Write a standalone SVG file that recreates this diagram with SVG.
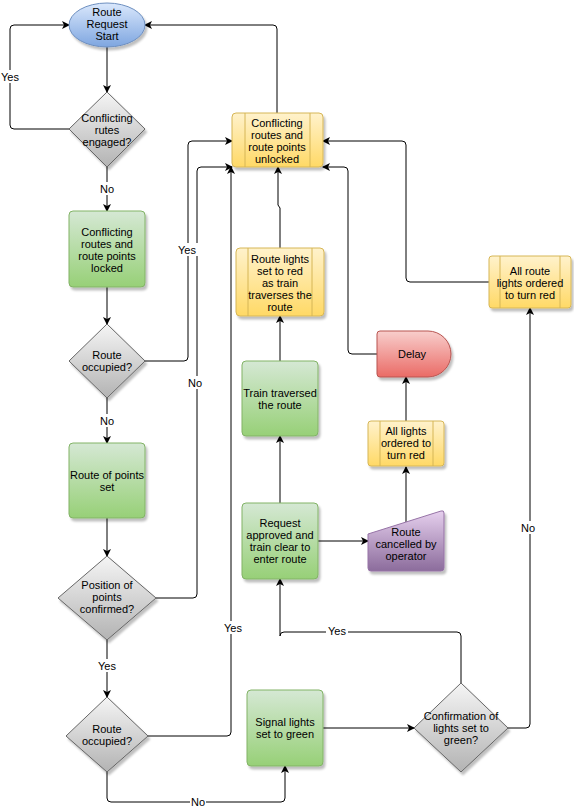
<svg xmlns="http://www.w3.org/2000/svg" width="574" height="810" viewBox="0 0 574 810">
<defs>
<linearGradient id="gGreen" x1="0" y1="0" x2="0" y2="1"><stop offset="0" stop-color="#d5e8d4"/><stop offset="1" stop-color="#97d077"/></linearGradient>
<linearGradient id="gYellow" x1="0" y1="0" x2="0" y2="1"><stop offset="0" stop-color="#fff2cc"/><stop offset="1" stop-color="#ffd966"/></linearGradient>
<linearGradient id="gRed" x1="0" y1="0" x2="0" y2="1"><stop offset="0" stop-color="#f8cecc"/><stop offset="1" stop-color="#ea6b66"/></linearGradient>
<linearGradient id="gPurple" x1="0" y1="0" x2="0" y2="1"><stop offset="0" stop-color="#e6d0ee"/><stop offset="1" stop-color="#8c6c9c"/></linearGradient>
<linearGradient id="gBlue" x1="0" y1="0" x2="0" y2="1"><stop offset="0" stop-color="#dae8fc"/><stop offset="1" stop-color="#7ea6e0"/></linearGradient>
<linearGradient id="gGrey" x1="0" y1="0" x2="0" y2="1"><stop offset="0" stop-color="#f5f5f5"/><stop offset="1" stop-color="#b3b3b3"/></linearGradient>
<filter id="sh" x="-20%" y="-20%" width="150%" height="150%"><feDropShadow dx="2" dy="3" stdDeviation="1.2" flood-color="#000" flood-opacity="0.25"/></filter>
<marker id="arr" markerWidth="10" markerHeight="10" refX="7" refY="4" orient="auto" markerUnits="userSpaceOnUse"><path d="M0,0 L8,4 L0,8 L2,4 z" fill="#000"/></marker>
</defs>
<style>
text{font-family:"Liberation Sans",Arial,sans-serif;font-size:11px;fill:#000;text-anchor:middle}
.green{fill:url(#gGreen);stroke:#82b366;stroke-width:1;filter:url(#sh)}
.yellow{fill:url(#gYellow);stroke:#d6b656;stroke-width:1;filter:url(#sh)}
.red{fill:url(#gRed);stroke:#b85450;stroke-width:1;filter:url(#sh)}
.purple{fill:url(#gPurple);stroke:#9673a6;stroke-width:1;filter:url(#sh)}
.blue{fill:url(#gBlue);stroke:#6c8ebf;stroke-width:1;filter:url(#sh)}
.grey{fill:url(#gGrey);stroke:#666666;stroke-width:1;filter:url(#sh)}
.inner{stroke:#d6b656;stroke-width:1}
.edge{fill:none;stroke:#000;stroke-width:1;marker-end:url(#arr)}
.lbl{fill:#fff}
</style>
<g id="connectors">
<path class="edge" d="M107 47 V92"/>
<path class="edge" d="M69 129 H14 Q10 129 10 125 V29 Q10 25 14 25 H69"/>
<path class="edge" d="M107 167 V211"/>
<path class="edge" d="M107 287 V324"/>
<path class="edge" d="M145 361 H184 Q188 361 188 357 V145 Q188 141 192 141 H232"/>
<path class="edge" d="M107 398 V443"/>
<path class="edge" d="M107 518 V556"/>
<path class="edge" d="M156 598 H193 Q197 598 197 594 V171 Q197 167 201 167 H232"/>
<path class="edge" d="M107 640 V697"/>
<path class="edge" d="M148 736 H227 Q231 736 231 732 V167"/>
<path class="edge" d="M107 772 V798 Q107 802 111 802 H281 Q285 802 285 798 V766"/>
<path class="edge" d="M323 728 H414"/>
<path class="edge" d="M461 683 V636 Q461 632 457 632 H284 Q280 632 280 636 V579"/>
<path class="edge" d="M508 728 H526 Q530 728 530 724 V308"/>
<path class="edge" d="M280 503 V436"/>
<path class="edge" d="M318 541 H368"/>
<path class="edge" d="M406 522 V467"/>
<path class="edge" d="M406 421 V377"/>
<path class="edge" d="M377 354 H352 Q348 354 348 350 V171 Q348 167 344 167 H323"/>
<path class="edge" d="M280 361 V316"/>
<path class="edge" d="M280 248 V208 L278 205 V167"/>
<path class="edge" d="M489 282 H410 Q406 282 406 278 V145 Q406 141 402 141 H323"/>
<path class="edge" d="M277 113 V29 Q277 25 273 25 H145"/>
<rect class="lbl" x="0" y="70" width="20" height="13"/><text x="10" y="81">Yes</text>
<rect class="lbl" x="99" y="182" width="16" height="13"/><text x="107" y="193">No</text>
<rect class="lbl" x="177" y="243" width="21" height="13"/><text x="187" y="254">Yes</text>
<rect class="lbl" x="99" y="414" width="16" height="13"/><text x="107" y="425">No</text>
<rect class="lbl" x="188" y="376" width="16" height="13"/><text x="195" y="387">No</text>
<rect class="lbl" x="97" y="659" width="21" height="13"/><text x="107" y="670">Yes</text>
<rect class="lbl" x="223" y="621" width="21" height="13"/><text x="233" y="632">Yes</text>
<rect class="lbl" x="190" y="795" width="16" height="13"/><text x="198" y="806">No</text>
<rect class="lbl" x="326" y="625" width="22" height="13"/><text x="337" y="635">Yes</text>
<rect class="lbl" x="520" y="521" width="16" height="13"/><text x="528" y="532">No</text>
</g>
<g id="start">
<ellipse class="blue" cx="107" cy="25" rx="38" ry="22"/>
<text x="107" y="16">Route</text><text x="107" y="28">Request</text><text x="107" y="40">Start</text>
</g>
<g id="d1">
<polygon class="grey" points="107,92 145,129 107,167 69,129"/>
<text x="107" y="122">Conflicting</text><text x="107" y="134">rutes</text><text x="107" y="146">engaged?</text>
</g>
<g id="locked">
<rect class="green" x="69" y="211" width="76" height="76" rx="4"/>
<text x="107" y="236">Conflicting</text><text x="107" y="248">routes and</text><text x="107" y="260">route points</text><text x="107" y="272">locked</text>
</g>
<g id="d2">
<polygon class="grey" points="107,324 145,361 107,398 69,361"/>
<text x="107" y="359">Route</text><text x="107" y="371">occupied?</text>
</g>
<g id="pointsset">
<rect class="green" x="69" y="443" width="76" height="75" rx="4"/>
<text x="107" y="479">Route of points</text><text x="107" y="491">set</text>
</g>
<g id="d3">
<polygon class="grey" points="107,556 156,598 107,640 58,598"/>
<text x="107" y="589">Position of</text><text x="107" y="601">points</text><text x="107" y="613">confirmed?</text>
</g>
<g id="d4">
<polygon class="grey" points="107,697 148,736 107,772 66,736"/>
<text x="107" y="733">Route</text><text x="107" y="745">occupied?</text>
</g>
<g id="signal">
<rect class="green" x="247" y="690" width="76" height="76" rx="4"/>
<text x="285" y="726">Signal lights</text><text x="285" y="738">set to green</text>
</g>
<g id="confirm">
<polygon class="grey" points="461,683 508,728 461,772 414,728"/>
<text x="461" y="720">Confirmation of</text><text x="461" y="732">lights set to</text><text x="461" y="744">green?</text>
</g>
<g id="request">
<rect class="green" x="242" y="503" width="76" height="76" rx="4"/>
<text x="280" y="527">Request</text><text x="280" y="539">approved and</text><text x="280" y="551">train clear to</text><text x="280" y="563">enter route</text>
</g>
<g id="traversed">
<rect class="green" x="242" y="361" width="76" height="75" rx="4"/>
<text x="280" y="397">Train traversed</text><text x="280" y="409">the route</text>
</g>
<g id="routelights">
<rect class="yellow" x="236" y="248" width="88" height="68" rx="4"/>
<line class="inner" x1="248" y1="248" x2="248" y2="316"/><line class="inner" x1="312" y1="248" x2="312" y2="316"/>
<text x="280" y="263">Route lights</text><text x="280" y="275">set to red</text><text x="280" y="287">as train</text><text x="280" y="299">traverses the</text><text x="280" y="311">route</text>
</g>
<g id="unlocked">
<rect class="yellow" x="232" y="113" width="91" height="54" rx="4"/>
<line class="inner" x1="245" y1="113" x2="245" y2="167"/><line class="inner" x1="310" y1="113" x2="310" y2="167"/>
<text x="277" y="127">Conflicting</text><text x="277" y="139">routes and</text><text x="277" y="151">route points</text><text x="277" y="163">unlocked</text>
</g>
<g id="delay">
<path class="red" d="M380 331 H428 A23 23 0 0 1 428 377 H380 Q377 377 377 374 V334 Q377 331 380 331 Z"/>
<text x="412" y="358">Delay</text>
</g>
<g id="alllights">
<rect class="yellow" x="368" y="421" width="76" height="45" rx="3"/>
<line class="inner" x1="380" y1="421" x2="380" y2="466"/><line class="inner" x1="433" y1="421" x2="433" y2="466"/>
<text x="406" y="435">All lights</text><text x="406" y="447">ordered to</text><text x="406" y="459">turn red</text>
</g>
<g id="allroutelights">
<rect class="yellow" x="489" y="256" width="82" height="52" rx="3"/>
<line class="inner" x1="500" y1="256" x2="500" y2="308"/><line class="inner" x1="560" y1="256" x2="560" y2="308"/>
<text x="530" y="275">All route</text><text x="530" y="287">lights ordered</text><text x="530" y="299">to turn red</text>
</g>
<g id="cancelled">
<path class="purple" d="M368 534 L441 511 Q444 510 444 513 V568 Q444 571 441 571 H371 Q368 571 368 568 Z"/>
<text x="406" y="536">Route</text><text x="406" y="548">cancelled by</text><text x="406" y="560">operator</text>
</g>
</svg>
